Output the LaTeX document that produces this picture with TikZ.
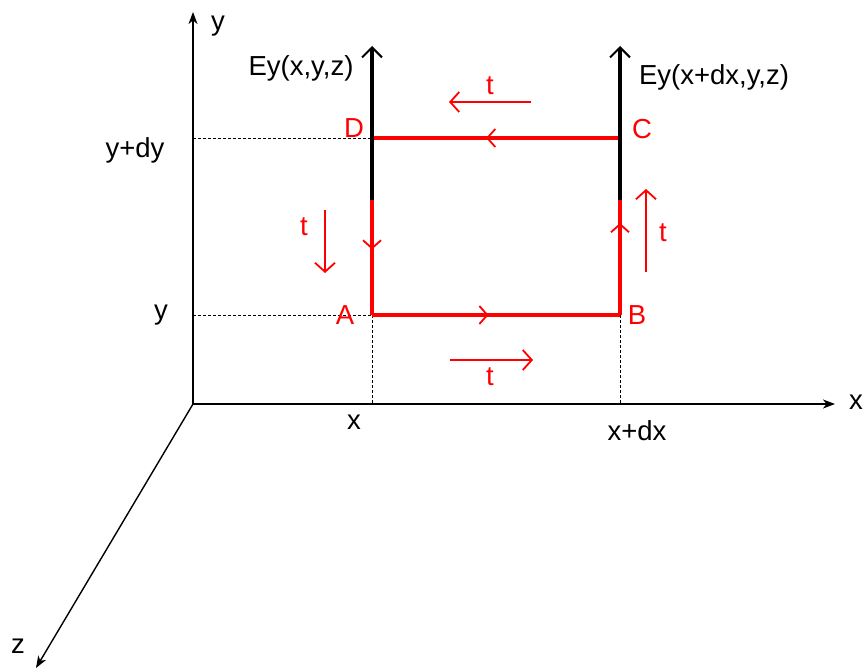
\documentclass[tikz,border=0pt]{standalone}
\usepackage{fontspec}
\setmainfont{Liberation Sans}
\usetikzlibrary{arrows.meta,decorations.markings}
\begin{document}
\begin{tikzpicture}[x=1pt,y=-1pt,
  lbl/.style={font=\fontsize{27.5}{30}\selectfont, inner sep=0pt},
  redlbl/.style={lbl, text=red},
  axis/.style={line width=1.4pt, -{Stealth[length=12pt,width=9pt,inset=3.5pt]}},
  guide/.style={line width=1pt, dash pattern=on 3pt off 2pt},
  field/.style={line width=3.2pt, -{Straight Barb[length=10pt,width=20pt,line width=2pt]}},
  edge/.style={red, line width=3.4pt},
  midarrow/.style={postaction={decorate, decoration={markings,
      mark=at position #1 with {\arrow{Straight Barb[length=8pt,width=18pt,line width=1.8pt]}}}}},
  tarrow/.style={red, line width=1.8pt, -{Straight Barb[length=9pt,width=20pt,line width=1.8pt]}}
]
\useasboundingbox (0,0) rectangle (864,669);
% axes
\coordinate (O) at (193,404);
\coordinate (ytip) at (193,12);
\coordinate (xtip) at (835,404);
\coordinate (ztip) at (36,668);
\draw[axis] (O) -- (ytip);
\draw[axis] (O) -- (xtip);
\draw[axis] (O) -- (ztip);
\node[lbl] (ylab) at (218,26) {y};
\node[lbl] (xlab) at (856,402) {x};
\node[lbl] (zlab) at (18,646) {z};
% corners
\coordinate (A) at (372,315);
\coordinate (B) at (620,315);
\coordinate (C) at (620,138);
\coordinate (D) at (372,138);
\coordinate (yA) at (193,315);
\coordinate (yD) at (193,138);
\coordinate (xA) at (372,404);
\coordinate (xB) at (620,404);
% guides
\draw[guide] (yD) -- (D);
\draw[guide] (yA) -- (A);
\draw[guide] (A) -- (xA);
\draw[guide] (B) -- (xB);
% axis labels
\node[lbl] (lydy) at (135,150) {y+dy};
\node[lbl] (ly) at (161,315) {y};
\node[lbl] (lx) at (354,422) {x};
\node[lbl] (lxdx) at (637,431) {x+dx};
% field arrow anchors
\coordinate (Ebot) at (372,200);
\coordinate (Etop) at (372,46);
\coordinate (Fbot) at (620,200);
\coordinate (Ftop) at (620,46);
% loop
\draw[edge, midarrow=0.47] (A) -- (B);
\draw[edge, midarrow=0.8] (B) -- (Fbot);
\draw[edge, midarrow=0.54] (C) -- (D);
\draw[edge, midarrow=0.43] (Ebot) -- (A);
% field arrows
\draw[field] (Ebot) -- (Etop);
\draw[field] (Fbot) -- (Ftop);
\node[lbl] (Ey1) at (301,68) {Ey(x,y,z)};
\node[lbl] (Ey2) at (714,77) {Ey(x+dx,y,z)};
% corner labels
\node[redlbl] (lA) at (345,315) {A};
\node[redlbl] (lB) at (637,315) {B};
\node[redlbl] (lC) at (642,129) {C};
\node[redlbl] (lD) at (354,128) {D};
% t arrows
\coordinate (t1s) at (531,102); \coordinate (t1e) at (449,102);
\coordinate (t2s) at (325,210); \coordinate (t2e) at (325,273);
\coordinate (t3s) at (646,272); \coordinate (t3e) at (646,189);
\coordinate (t4s) at (450,360); \coordinate (t4e) at (533,360);
\draw[tarrow] (t1s) -- (t1e);
\draw[tarrow] (t2s) -- (t2e);
\draw[tarrow] (t3s) -- (t3e);
\draw[tarrow] (t4s) -- (t4e);
\node[redlbl] (tl1) at (490,86) {t};
\node[redlbl] (tl2) at (304,227) {t};
\node[redlbl] (tl3) at (663,233) {t};
\node[redlbl] (tl4) at (490,377) {t};
\end{tikzpicture}
\end{document}
